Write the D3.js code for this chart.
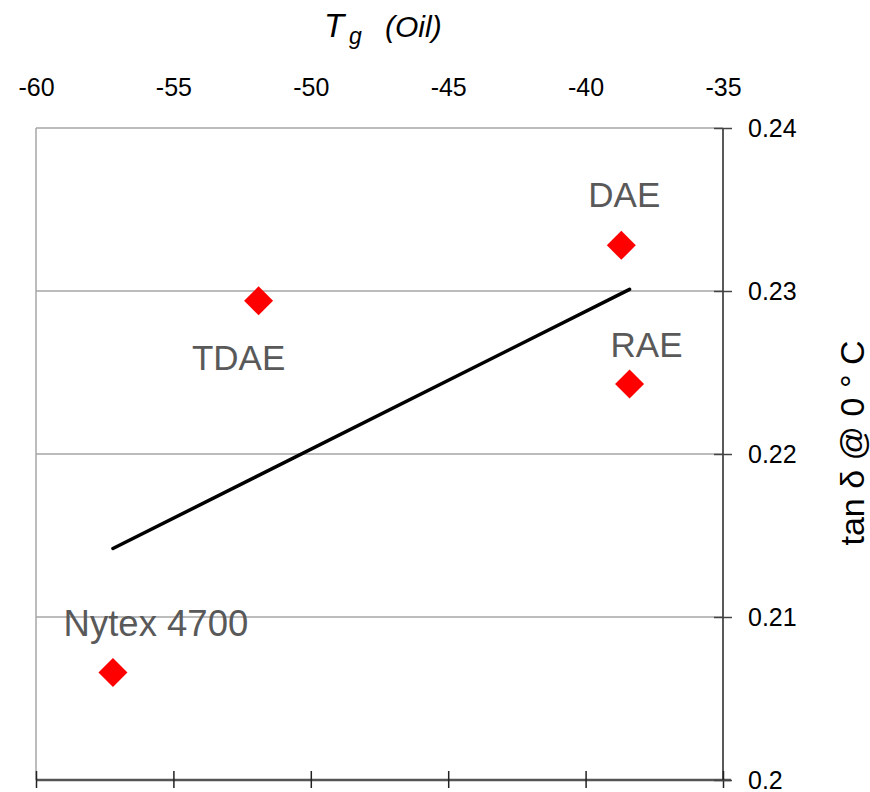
<!DOCTYPE html>
<html>
<head>
<meta charset="utf-8">
<script src="https://cdn.jsdelivr.net/npm/d3@7"></script>
<style>
  body { margin: 0; background: #fff; }
  svg { font-family: "Liberation Sans", Arial, sans-serif; }
</style>
</head>
<body>
<div id="chart-area"></div>
<script>
// oils: glass transition of the oil vs tan delta at 0 C
let oils = ["Nytex 4700", "TDAE", "DAE", "RAE"]
let tgOil = [-57.2, -51.9, -38.7, -38.4]
let tanDelta = [0.2066, 0.2294, 0.2328, 0.2243]

// fitted trend line, read at both ends
let trendX = [-57.2, -38.4]
let trendY = [0.2142, 0.2301]

let xTicks = [-60, -55, -50, -45, -40, -35]
let yTicks = [0.2, 0.21, 0.22, 0.23, 0.24]

let width = 870
let height = 792

let svg = d3.select("#chart-area")
            .append('svg')
            .attr('width', width)
            .attr('height', height)

let xScale = d3.scaleLinear()
                .domain([-60, -35])
                .range([36, 723])

let yScale = d3.scaleLinear()
                .domain([0.2, 0.24])
                .range([780, 128])

// gridlines
svg.selectAll(".grid")
    .data(yTicks.slice(1))
    .enter()
    .append("line")
    .attr('x1', xScale(-60))
    .attr('x2', xScale(-35))
    .attr('y1', d => yScale(d))
    .attr('y2', d => yScale(d))
    .attr('stroke', '#a6a6a6')
    .attr('stroke-width', 1.5)

// left border of plot
svg.append("line")
    .attr('x1', xScale(-60))
    .attr('x2', xScale(-60))
    .attr('y1', yScale(0.24))
    .attr('y2', yScale(0.2))
    .attr('stroke', '#a6a6a6')
    .attr('stroke-width', 1.5)

// top axis, labels only
let topAxis = svg.append("g")
    .attr('transform', `translate(0,${yScale(0.24)})`)
    .call(d3.axisTop(xScale).tickValues(xTicks).tickSize(0).tickPadding(32).tickFormat(d => String(d)))
topAxis.select(".domain").remove()
topAxis.selectAll("text")
    .attr('font-size', 25)
    .attr('fill', '#000')
    .attr('font-family', '"Liberation Sans", Arial, sans-serif')

// bottom axis, ticks only
let bottomAxis = svg.append("g")
    .attr('transform', `translate(0,${yScale(0.2)})`)
    .call(d3.axisBottom(xScale).tickValues(xTicks).tickSize(8).tickFormat(""))
bottomAxis.select(".domain")
    .attr('d', `M${xScale(-60)},0H${xScale(-35) + 8}`)
    .attr('stroke', '#555')
    .attr('stroke-width', 2.5)
bottomAxis.selectAll(".tick line")
    .attr('y1', -9)
    .attr('stroke', '#222')
    .attr('stroke-width', 1.5)

// right axis
let rightAxis = svg.append("g")
    .attr('transform', `translate(${xScale(-35)},0)`)
    .call(d3.axisRight(yScale).tickValues(yTicks).tickSize(9).tickPadding(16).tickFormat(d => String(d)))
rightAxis.select(".domain")
    .attr('d', `M0,${yScale(0.24)}V${yScale(0.2)}`)
    .attr('stroke', '#222')
    .attr('stroke-width', 1.5)
rightAxis.selectAll(".tick line")
    .attr('x1', -9)
    .attr('stroke', '#444')
    .attr('stroke-width', 1.5)
rightAxis.selectAll("text")
    .attr('font-size', 25)
    .attr('fill', '#000')
    .attr('font-family', '"Liberation Sans", Arial, sans-serif')

// trend line
let line = d3.line()
    .x(d => xScale(d[0]))
    .y(d => yScale(d[1]))
svg.append("path")
    .datum(d3.zip(trendX, trendY))
    .attr('d', line)
    .attr('fill', 'none')
    .attr('stroke', '#000')
    .attr('stroke-width', 3.5)
    .attr('stroke-linecap', 'round')

let points = d3.zip(oils, tgOil, tanDelta)

// diamonds
svg.selectAll(".pt")
    .data(points)
    .enter()
    .append("path")
    .attr('d', d3.symbol(d3.symbolSquare, 420))
    .attr('transform', d => `translate(${xScale(d[1])},${yScale(d[2])}) rotate(45)`)
    .attr('fill', '#ff0000')

// point labels
let labelOffset = {
    "Nytex 4700": [43, -36],
    "TDAE": [-20, 69],
    "DAE": [3, -38],
    "RAE": [17, -27]
}
svg.selectAll(".lbl")
    .data(points)
    .enter()
    .append("text")
    .attr('x', d => xScale(d[1]) + labelOffset[d[0]][0])
    .attr('y', d => yScale(d[2]) + labelOffset[d[0]][1])
    .attr('text-anchor', 'middle')
    .attr('font-size', d => d[0] == "Nytex 4700" ? 36.5 : 35)
    .attr('fill', '#595959')
    .text(d => d[0])

// top title
let title = svg.append("g").attr('font-style', 'italic').attr('fill', '#000')
title.append("text").attr('x', 324).attr('y', 37).attr('font-size', 33).text("T")
title.append("text").attr('x', 349).attr('y', 44).attr('font-size', 23).text("g")
title.append("text").attr('x', 385).attr('y', 37).attr('font-size', 30).text("(Oil)")

// right title
svg.append("text")
    .attr('transform', 'translate(864,443) rotate(-90)')
    .attr('text-anchor', 'middle')
    .attr('font-size', 34)
    .attr('fill', '#000')
    .text("tan \u03b4 @ 0 \u00b0 C")
</script>
</body>
</html>
